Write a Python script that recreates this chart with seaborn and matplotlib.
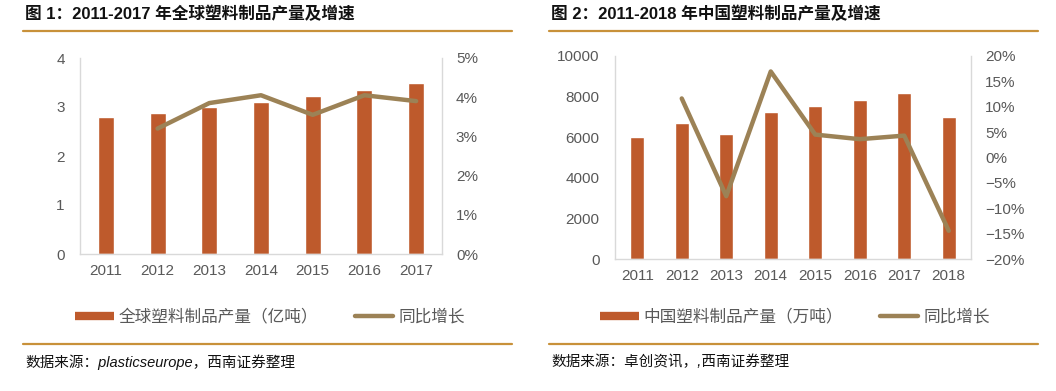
import numpy as np
import pandas as pd
import matplotlib
matplotlib.use("Agg")
import matplotlib.pyplot as plt
from matplotlib.lines import Line2D
from matplotlib.ticker import FuncFormatter
import seaborn as sns

# ---------------- data ----------------
years1 = ["2011", "2012", "2013", "2014", "2015", "2016", "2017"]
global_output = [2.80, 2.88, 2.99, 3.11, 3.22, 3.35, 3.48]          # 亿吨
global_growth = [np.nan, 3.2, 3.85, 4.05, 3.55, 4.05, 3.9]           # %

years2 = ["2011", "2012", "2013", "2014", "2015", "2016", "2017", "2018"]
china_output = [6000, 6690, 6170, 7240, 7530, 7810, 8150, 6975]      # 万吨
china_growth = [np.nan, 11.6, -7.6, 16.9, 4.5, 3.6, 4.3, -14.4]      # %

titles = ["图 1：2011-2017 年全球塑料制品产量及增速",
          "图 2：2011-2018 年中国塑料制品产量及增速"]
bar_labels = ["全球塑料制品产量（亿吨）", "中国塑料制品产量（万吨）"]
line_label = "同比增长"
sources = ["数据来源：plasticseurope，西南证券整理",
           "数据来源：卓创资讯，,西南证券整理"]

# ---------------- style ----------------
sns.set_style("white")
plt.rcParams["font.family"] = ["Liberation Sans", "Noto Sans CJK SC", "DejaVu Sans"]
plt.rcParams["axes.unicode_minus"] = True

BAR = "#BE5A2C"
LINE = "#9C8256"
GOLD = "#C8913A"
GRAY_TXT = "#595959"
SPINE = "#D9D9D9"

W, H = 1056, 391
fig = plt.figure(figsize=(W / 100, H / 100), dpi=100)


def px_axes(x0, y_top, x1, y_bot):
    return fig.add_axes([x0 / W, 1 - y_bot / H, (x1 - x0) / W, (y_bot - y_top) / H])


def pct_fmt(v, pos):
    s = f"{int(round(v))}%"
    return s.replace("-", "\u2212")


def draw_panel(ax, years, bars, growth, ylim, yticks, y2lim, y2ticks):
    df = pd.DataFrame({"year": years, "val": bars, "g": growth,
                       "pos": np.arange(len(years))})
    sns.barplot(data=df, x="year", y="val", color=BAR, saturation=1,
                width=0.31, ax=ax)
    ax.set_xlim(-0.5, len(years) - 0.5)
    ax.set_ylim(*ylim)
    ax.set_yticks(yticks)
    ax.set_xlabel("")
    ax.set_ylabel("")
    ax2 = ax.twinx()
    sub = df.dropna(subset=["g"])
    sns.lineplot(data=sub, x="pos", y="g", color=LINE, lw=3.2, ax=ax2,
                 estimator=None, sort=False)
    ax2.set_ylim(*y2lim)
    ax2.set_yticks(y2ticks)
    ax2.yaxis.set_major_formatter(FuncFormatter(pct_fmt))
    ax2.set_ylabel("")
    ax2.set_xlim(-0.5, len(years) - 0.5)
    for a in (ax, ax2):
        for s in a.spines.values():
            s.set_visible(False)
        a.tick_params(length=0, labelsize=11, labelcolor=GRAY_TXT)
        a.grid(False)
    ax.tick_params(axis="y", pad=11)
    ax.tick_params(axis="x", pad=7)
    ax2.tick_params(axis="y", pad=10)
    ax.spines["left"].set_visible(True)
    ax.spines["bottom"].set_visible(True)
    ax2.spines["right"].set_visible(True)
    for s in (ax.spines["left"], ax.spines["bottom"], ax2.spines["right"]):
        s.set_color(SPINE)
        s.set_linewidth(1.0)
    return ax2


ax1 = px_axes(80, 58, 442, 254)
draw_panel(ax1, years1, global_output, global_growth,
           (0, 4), [0, 1, 2, 3, 4], (0, 5), [0, 1, 2, 3, 4, 5])

ax3 = px_axes(615, 55.7, 971, 259.3)
draw_panel(ax3, years2, china_output, china_growth,
           (0, 10000), [0, 2000, 4000, 6000, 8000, 10000],
           (-20, 20), list(range(-20, 21, 5)))

# ---------------- decorations ----------------
panels = [
    dict(x0=23, x1=512, tx=25, lx=270),
    dict(x0=549, x1=1038, tx=551, lx=795),
]
for i, p in enumerate(panels):
    fig.text(p["tx"] / W, 1 - 14 / H, titles[i], fontsize=12, fontweight="bold",
             va="center", ha="left", color="#111111",
             family=["Liberation Sans", "Noto Sans CJK SC"])
    fig.add_artist(Line2D([p["x0"] / W, p["x1"] / W], [1 - 31 / H, 1 - 31 / H],
                          transform=fig.transFigure, color=GOLD, lw=1.6))
    fig.add_artist(Line2D([p["x0"] / W, p["x1"] / W], [1 - 344 / H, 1 - 344 / H],
                          transform=fig.transFigure, color=GOLD, lw=1.6))
    fig.text((p["tx"]) / W, 1 - 362 / H, sources[i], fontsize=10.5, style="italic",
             va="center", ha="left", color="#111111",
             family=["Liberation Sans", "Noto Sans CJK SC"])
    handles = [Line2D([], [], color=BAR, lw=6, solid_capstyle="butt"),
               Line2D([], [], color=LINE, lw=3.2, solid_capstyle="round")]
    leg = fig.legend(handles, [bar_labels[i], line_label], loc="center",
                     bbox_to_anchor=(p["lx"] / W, 1 - 317 / H), ncol=2,
                     frameon=False, handlelength=2.3, handletextpad=0.3,
                     columnspacing=2.2,
                     prop=dict(family=["Noto Sans CJK SC"], size=12))
    for t in leg.get_texts():
        t.set_color(GRAY_TXT)

fig.savefig("out.png", dpi=100)
